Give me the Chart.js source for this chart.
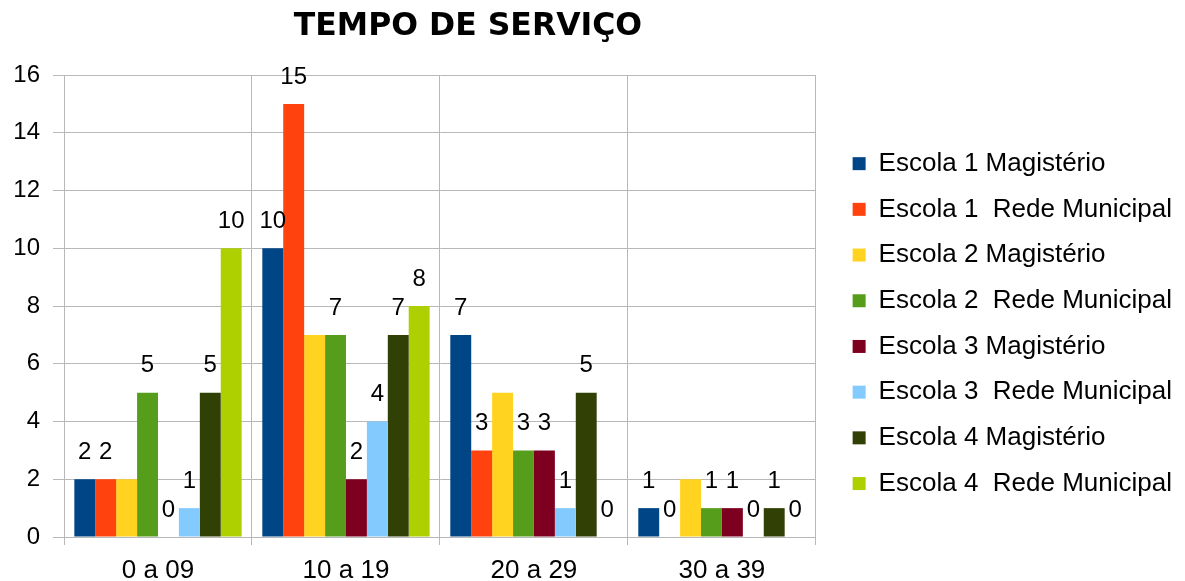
<!DOCTYPE html>
<html>
<head>
<meta charset="utf-8">
<script src="https://cdn.jsdelivr.net/npm/chart.js@4"></script>
<style>
  html, body { margin: 0; padding: 0; background: #fff; }
  #wrap { width: 1185px; height: 581px; }
</style>
</head>
<body>
<div id="wrap"><canvas id="chart" width="1185" height="581"></canvas></div>
<script>
// Chart data
const chartTitle = 'TEMPO DE SERVIÇO';
const categories = ['0 a 09', '10 a 19', '20 a 29', '30 a 39'];

const seriesNames = [
    'Escola 1 Magistério',
    'Escola 1  Rede Municipal',
    'Escola 2 Magistério',
    'Escola 2  Rede Municipal',
    'Escola 3 Magistério',
    'Escola 3  Rede Municipal',
    'Escola 4 Magistério',
    'Escola 4  Rede Municipal'
];

const escola1Magisterio = [2, 10, 7, 1];
const escola1Rede = [2, 15, 3, 0];
const escola2Magisterio = [2, 7, 5, 2];
const escola2Rede = [5, 7, 3, 1];
const escola3Magisterio = [0, 2, 3, 1];
const escola3Rede = [1, 4, 1, 0];
const escola4Magisterio = [5, 7, 5, 1];
const escola4Rede = [10, 8, 0, 0];

// the yellow series has no value labels in the original
const showValues = [true, true, false, true, true, true, true, true];

const seriesColors = ['#004586', '#ff420e', '#ffd320', '#579d1c', '#7e0021', '#83caff', '#314004', '#aecf00'];

const yTicks = [0, 2, 4, 6, 8, 10, 12, 14, 16];

const FONT = "'Liberation Sans', Arial, sans-serif";

const seriesValues = [
    escola1Magisterio, escola1Rede, escola2Magisterio, escola2Rede,
    escola3Magisterio, escola3Rede, escola4Magisterio, escola4Rede
];

// Value labels above the bars
const valueLabels = {
    id: 'valueLabels',
    afterDatasetsDraw(chart) {
        const ctx = chart.ctx;
        ctx.save();
        ctx.font = '24px ' + FONT;
        ctx.fillStyle = '#000';
        ctx.textAlign = 'center';
        ctx.textBaseline = 'middle';
        chart.data.datasets.forEach((ds, i) => {
            if (!showValues[i]) return;
            chart.getDatasetMeta(i).data.forEach((bar, j) => {
                ctx.fillText(String(ds.data[j]), bar.x, bar.y - 27);
            });
        });
        ctx.restore();
    }
};

// Title, centred like the original (not over the canvas centre)
const titleText = {
    id: 'titleText',
    afterDraw(chart) {
        const ctx = chart.ctx;
        ctx.save();
        ctx.font = "bold 31.5px 'DejaVu Sans', Verdana, sans-serif";
        ctx.fillStyle = '#000';
        ctx.textAlign = 'center';
        ctx.textBaseline = 'alphabetic';
        ctx.fillText(chartTitle, 468, 35);
        ctx.restore();
    }
};

const ctx = document.getElementById('chart').getContext('2d');
const chart = new Chart(ctx, {
    type: 'bar',
    data: {
        labels: categories,
        datasets: seriesNames.map((name, i) => ({
            label: name,
            data: seriesValues[i],
            backgroundColor: seriesColors[i],
            borderWidth: 0,
            categoryPercentage: 0.89,
            barPercentage: 1.0
        }))
    },
    options: {
        responsive: false,
        animation: false,
        layout: {
            padding: { left: 13, top: 75, right: 3, bottom: 0 }
        },
        plugins: {
            title: { display: false },
            tooltip: { enabled: false },
            legend: {
                position: 'right',
                align: 'center',
                maxWidth: 400,
                // empty title with negative padding: lifts the items a few px
                title: {
                    display: true,
                    text: '',
                    font: { size: 1 },
                    padding: { top: -10, bottom: 0 }
                },
                labels: {
                    boxWidth: 13,
                    boxHeight: 13,
                    padding: 19.7,
                    color: '#000',
                    font: { family: FONT, size: 26 }
                }
            }
        },
        scales: {
            x: {
                afterFit(axis) {
                    axis.height = 44;
                },
                grid: {
                    color: '#b8b8b8',
                    tickLength: 8,
                    offset: true
                },
                border: { color: '#b8b8b8' },
                ticks: {
                    color: '#000',
                    padding: 10,
                    font: { family: FONT, size: 26 }
                }
            },
            y: {
                min: 0,
                max: 16,
                afterBuildTicks(axis) {
                    axis.ticks = yTicks.map(v => ({ value: v }));
                },
                afterFit(axis) {
                    axis.width = 51;
                },
                grid: {
                    color: '#b8b8b8',
                    tickLength: 11
                },
                border: { color: '#b8b8b8' },
                ticks: {
                    color: '#000',
                    padding: 13,
                    font: { family: FONT, size: 24 }
                }
            },
            // empty spacer between plot and legend
            gap: {
                axis: 'y',
                position: 'right',
                grid: { display: false },
                border: { display: false },
                ticks: { display: false },
                afterFit(axis) {
                    axis.width = 17;
                }
            }
        }
    },
    plugins: [valueLabels, titleText]
});
</script>
</body>
</html>
